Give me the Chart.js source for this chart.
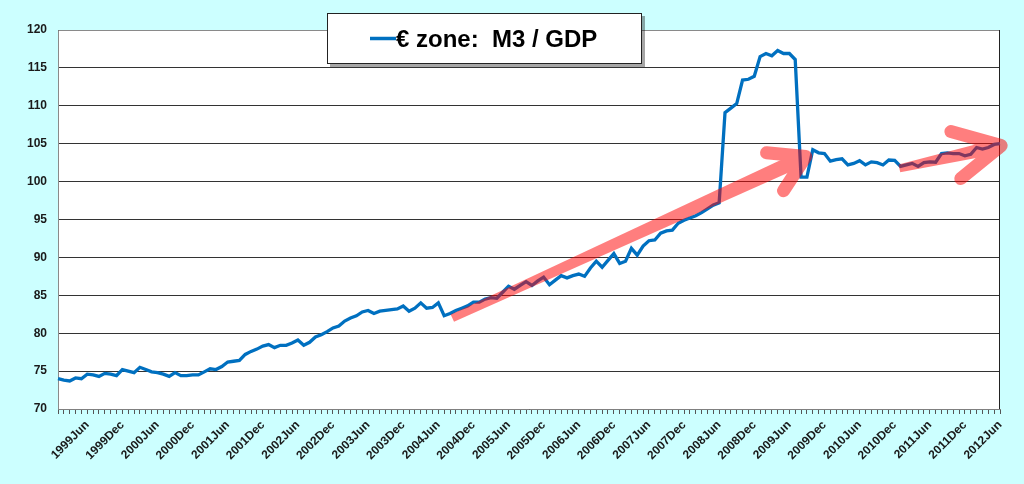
<!DOCTYPE html>
<html>
<head>
<meta charset="utf-8">
<script src="https://cdn.jsdelivr.net/npm/chart.js@4.4.0/dist/chart.umd.min.js"></script>
<style>
html,body{margin:0;padding:0;background:#ccffff;}
#wrap{width:1024px;height:484px;position:relative;}
canvas{display:block;}
</style>
</head>
<body>
<div id="wrap"><canvas id="c" width="1024" height="484"></canvas></div>
<script>
// ---- data ----
const seriesLabel = "€ zone:  M3 / GDP";
const startYear = 1999, startMonth = 0; // Jan 1999
const monthCount = 162;                 // to Jun 2012
const monthNames = ["Jan","Feb","Mar","Apr","May","Jun","Jul","Aug","Sep","Oct","Nov","Dec"];
const labelledMonths = ["Jun","Dec"];
const yTicks = {min:70, max:120, step:5};

const m3gdp = [
 74.0,73.8,73.7,74.1,74.0,74.6,74.5,74.3,74.7,74.6,74.4,75.2,75.0,74.8,75.5,75.2,74.9,74.8,74.6,74.3,
 74.8,74.4,74.4,74.5,74.5,74.9,75.3,75.2,75.6,76.2,76.3,76.4,77.2,77.6,77.9,
 78.3,78.5,78.1,78.4,78.4,78.7,79.1,78.4,78.8,79.5,79.8,80.2,80.7,80.95,81.6,82.0,82.3,82.8,83.0,82.6,
 82.9,83.0,83.1,83.2,83.6,82.9,83.3,84.0,83.3,83.4,84.0,82.3,
 82.6,83.0,83.3,83.6,84.1,84.1,84.5,84.7,84.6,85.4,86.2,85.8,86.3,86.8,86.3,86.9,87.4,86.4,87.0,87.6,
 87.3,87.6,87.8,87.5,88.6,89.5,88.7,89.6,90.5,89.2,89.5,91.2,90.3,91.5,92.2,92.3,93.2,93.5,93.6,94.5,94.9,
 95.2,95.5,95.9,96.4,96.9,97.2,109.1,109.7,110.3,113.4,113.5,113.9,116.5,116.9,116.6,117.3,116.9,116.9,116.1,
 100.6,100.6,104.2,103.8,103.7,102.7,102.9,103.0,
 102.2,102.4,102.75,102.2,102.6,102.5,102.2,102.85,102.8,102.0,102.2,102.4,102.0,102.5,102.6,102.55,
 103.7,103.8,103.7,103.7,103.4,103.6,104.5,104.3,104.5,104.9,105.0
];

// red trend arrows, in data units (month index, value)
const arrows = [
 {tail:[67.4,82.0], tip:[127.8,103.3], wingA:[121.1,103.8], wingB:[124.0,98.8]},
 {tail:[143.8,101.75], tip:[161.2,104.75], wingA:[152.6,106.6], wingB:[154.3,100.4]}
];

const months = [];
for (let i = 0; i < monthCount; i++) {
  const m = (startMonth + i) % 12;
  const y = startYear + Math.floor((startMonth + i) / 12);
  months.push(y + monthNames[m]);
}

const FONT = "Arial, 'Liberation Sans', sans-serif";

const bgPlugin = {
  id:'bg',
  beforeDraw(chart){
    const {ctx, chartArea:a} = chart;
    ctx.save();
    ctx.fillStyle = '#ccffff';
    ctx.fillRect(0,0,chart.width,chart.height);
    ctx.fillStyle = '#ffffff';
    ctx.fillRect(a.left,a.top,a.right-a.left,a.bottom-a.top);
    ctx.restore();
  },
  beforeDatasetsDraw(chart){
    const {ctx, chartArea:a} = chart;
    ctx.save();
    ctx.lineWidth = 1;
    ctx.strokeStyle = '#8a8a8a';
    ctx.beginPath();
    ctx.moveTo(Math.round(a.left)+0.5, a.bottom);
    ctx.lineTo(Math.round(a.left)+0.5, Math.round(a.top)+0.5);
    ctx.lineTo(Math.round(a.right)-0.5, Math.round(a.top)+0.5);
    ctx.stroke();
    ctx.strokeStyle = '#222';
    ctx.beginPath();
    ctx.moveTo(Math.round(a.right)-0.5, Math.round(a.top));
    ctx.lineTo(Math.round(a.right)-0.5, a.bottom);
    ctx.stroke();
    ctx.restore();
  }
};

const arrowPlugin = {
  id:'arrows',
  afterDatasetsDraw(chart){
    const xs = chart.scales.x, ys = chart.scales.y;
    const P = p => [xs.getPixelForValue(p[0]), ys.getPixelForValue(p[1])];
    const off = document.createElement('canvas');
    off.width = chart.width; off.height = chart.height;
    const o = off.getContext('2d');
    o.fillStyle = '#ff0000';
    o.strokeStyle = '#ff0000';
    o.lineCap = 'round';
    o.lineJoin = 'round';
    arrows.forEach(ar => {
      const t = P(ar.tail), h = P(ar.tip), a = P(ar.wingA), b = P(ar.wingB);
      const dx = h[0]-t[0], dy = h[1]-t[1], L = Math.hypot(dx,dy);
      const nx = -dy/L, ny = dx/L;
      const w0 = 4, w1 = 7.5;
      o.beginPath();
      o.moveTo(t[0]+nx*w0, t[1]+ny*w0);
      o.lineTo(h[0]+nx*w1, h[1]+ny*w1);
      o.lineTo(h[0]-nx*w1, h[1]-ny*w1);
      o.lineTo(t[0]-nx*w0, t[1]-ny*w0);
      o.closePath();
      o.fill();
      o.lineWidth = 13;
      o.beginPath();
      o.moveTo(a[0],a[1]); o.lineTo(h[0],h[1]); o.lineTo(b[0],b[1]);
      o.stroke();
    });
    const ctx = chart.ctx;
    ctx.save();
    ctx.globalAlpha = 0.5;
    ctx.drawImage(off,0,0);
    ctx.restore();
  }
};

const legendPlugin = {
  id:'legendBox',
  afterDraw(chart){
    const ctx = chart.ctx;
    const ds = chart.data.datasets[0];
    const bx = 327, by = 13, bw = 315, bh = 51;
    ctx.save();
    ctx.fillStyle = 'rgba(0,0,0,0.35)';
    ctx.fillRect(bx+3, by+3, bw, bh);
    ctx.fillStyle = '#ffffff';
    ctx.fillRect(bx, by, bw, bh);
    ctx.strokeStyle = '#222';
    ctx.lineWidth = 1;
    ctx.strokeRect(bx+0.5, by+0.5, bw-1, bh-1);
    ctx.strokeStyle = ds.borderColor;
    ctx.lineWidth = 3.5;
    ctx.beginPath();
    ctx.moveTo(370, 38.5); ctx.lineTo(396, 38.5);
    ctx.stroke();
    ctx.fillStyle = '#000';
    ctx.font = "bold 24px " + FONT;
    ctx.textBaseline = 'alphabetic';
    ctx.textAlign = 'left';
    ctx.fillText(ds.label, 396, 47);
    ctx.restore();
  }
};

new Chart(document.getElementById('c'), {
  type:'line',
  data:{
    labels: months,
    datasets:[{
      label: seriesLabel,
      data: m3gdp,
      borderColor:'#0070C0',
      borderWidth:3.3,
      pointRadius:0,
      tension:0,
      fill:false
    }]
  },
  options:{
    responsive:false,
    animation:false,
    devicePixelRatio:1,
    layout:{padding:{left:0,right:24,top:30,bottom:0}},
    plugins:{legend:{display:false}, tooltip:{enabled:false}},
    scales:{
      x:{
        offset:false,
        grid:{display:true, drawOnChartArea:false, drawTicks:true, tickLength:5, color:'#555'},
        border:{display:true, color:'#808080'},
        ticks:{
          autoSkip:false, maxRotation:45, minRotation:45, padding:4,
          color:'#1a1a1a',
          font:{family:FONT, weight:'bold', size:12},
          callback:(v,i)=> labelledMonths.includes(months[i].slice(4)) ? months[i] : ''
        },
        afterFit:s=>{ s.height = 75; }
      },
      y:{
        min:yTicks.min, max:yTicks.max,
        grid:{color:'#333', drawTicks:false, lineWidth:1},
        border:{display:false},
        ticks:{stepSize:yTicks.step, padding:11, color:'#1a1a1a',
               font:{family:FONT, weight:'bold', size:12}},
        afterFit:s=>{ s.width = 58; }
      }
    }
  },
  plugins:[bgPlugin, arrowPlugin, legendPlugin]
});
</script>
</body>
</html>
